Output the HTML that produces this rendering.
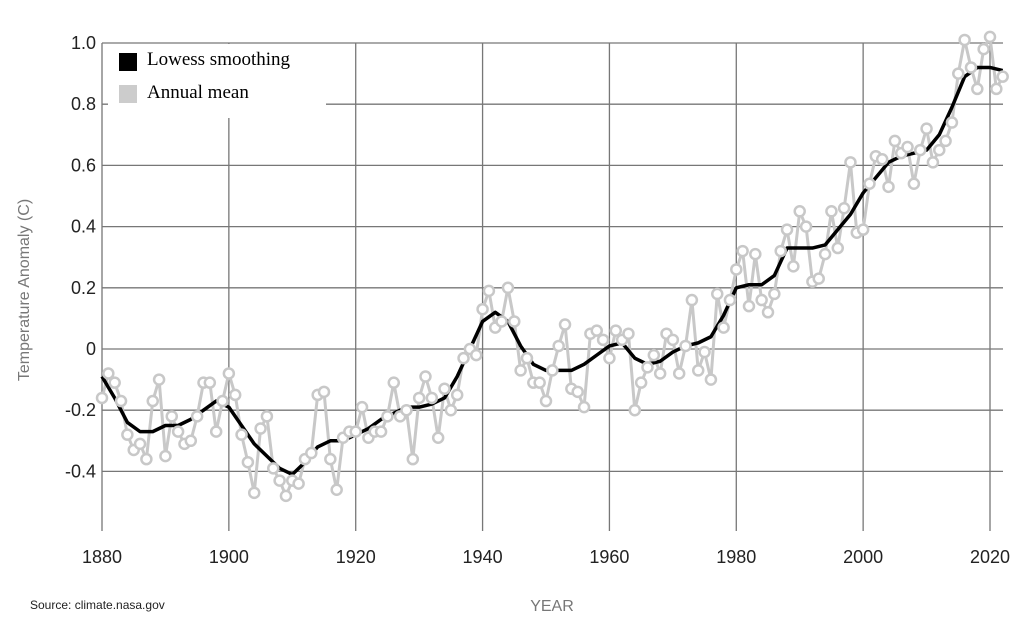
<!DOCTYPE html>
<html><head><meta charset="utf-8"><style>
html,body{margin:0;padding:0;background:#fff;}
svg{display:block;}
</style></head><body>
<svg id="c" width="1023" height="639" viewBox="0 0 1023 639" xmlns="http://www.w3.org/2000/svg" font-family="Liberation Sans, sans-serif"></svg>
<script>
const svg=document.getElementById('c');
const NS='http://www.w3.org/2000/svg';
function el(t,a,txt){const e=document.createElementNS(NS,t);for(const k in a)e.setAttribute(k,a[k]);if(txt!==undefined)e.textContent=txt;svg.appendChild(e);return e;}
const X=y=>102+(y-1880)*888/140;
const Y=v=>349-v*306;
for(let yr=1880;yr<=2020;yr+=20){el('line',{x1:X(yr),x2:X(yr),y1:43,y2:531,stroke:'#777','stroke-width':1.3});
 el('text',{x:X(yr),y:563,'text-anchor':'middle','font-size':18,fill:'#222'},String(yr));}
const yl={'1.0':1,'0.8':.8,'0.6':.6,'0.4':.4,'0.2':.2,'0':0,'-0.2':-.2,'-0.4':-.4};
for(const k in yl){el('line',{x1:102,x2:1003,y1:Y(yl[k]),y2:Y(yl[k]),stroke:'#777','stroke-width':1.3});
 el('text',{x:96,y:Y(yl[k])+6,'text-anchor':'end','font-size':18,fill:'#222'},k);}
const d=[-0.16,-0.08,-0.11,-0.17,-0.28,-0.33,-0.31,-0.36,-0.17,-0.10,-0.35,-0.22,-0.27,-0.31,-0.30,-0.22,-0.11,-0.11,-0.27,-0.17,-0.08,-0.15,-0.28,-0.37,-0.47,-0.26,-0.22,-0.39,-0.43,-0.48,-0.43,-0.44,-0.36,-0.34,-0.15,-0.14,-0.36,-0.46,-0.29,-0.27,-0.27,-0.19,-0.29,-0.27,-0.27,-0.22,-0.11,-0.22,-0.20,-0.36,-0.16,-0.09,-0.16,-0.29,-0.13,-0.20,-0.15,-0.03,0.00,-0.02,0.13,0.19,0.07,0.09,0.20,0.09,-0.07,-0.03,-0.11,-0.11,-0.17,-0.07,0.01,0.08,-0.13,-0.14,-0.19,0.05,0.06,0.03,-0.03,0.06,0.03,0.05,-0.20,-0.11,-0.06,-0.02,-0.08,0.05,0.03,-0.08,0.01,0.16,-0.07,-0.01,-0.10,0.18,0.07,0.16,0.26,0.32,0.14,0.31,0.16,0.12,0.18,0.32,0.39,0.27,0.45,0.40,0.22,0.23,0.31,0.45,0.33,0.46,0.61,0.38,0.39,0.54,0.63,0.62,0.53,0.68,0.64,0.66,0.54,0.65,0.72,0.61,0.65,0.68,0.74,0.90,1.01,0.92,0.85,0.98,1.02,0.85,0.89];
const lw=[-0.09,-0.16,-0.24,-0.27,-0.27,-0.25,-0.25,-0.23,-0.20,-0.17,-0.19,-0.25,-0.31,-0.35,-0.39,-0.41,-0.37,-0.32,-0.30,-0.30,-0.28,-0.26,-0.23,-0.21,-0.19,-0.19,-0.18,-0.16,-0.09,0.00,0.09,0.12,0.09,0.01,-0.05,-0.07,-0.07,-0.07,-0.05,-0.02,0.01,0.02,-0.03,-0.05,-0.04,-0.01,0.01,0.02,0.04,0.11,0.20,0.21,0.21,0.24,0.33,0.33,0.33,0.34,0.39,0.44,0.51,0.56,0.61,0.63,0.64,0.65,0.70,0.79,0.89,0.92,0.92,0.91];
el('polyline',{points:d.map((v,i)=>X(1880+i)+','+Y(v)).join(' '),fill:'none',stroke:'#c8c8c8','stroke-width':3,'stroke-linejoin':'round'});
el('polyline',{points:lw.map((v,i)=>X(1880+2*i)+','+Y(v)).join(' '),fill:'none',stroke:'#000','stroke-width':3.5,'stroke-linejoin':'round'});
d.forEach((v,i)=>el('circle',{cx:X(1880+i),cy:Y(v),r:5,fill:'#fff',stroke:'#c8c8c8','stroke-width':2.5}));
el('rect',{x:108,y:44,width:218,height:74,fill:'#fff'});
el('rect',{x:118,y:52,width:20,height:20,fill:'#000',stroke:'#fff','stroke-width':2});
el('rect',{x:118,y:84,width:20,height:20,fill:'#ccc',stroke:'#fff','stroke-width':2});
el('text',{x:147,y:65,style:'font-family:"Liberation Serif",serif;font-size:19px',fill:'#000'},'Lowess smoothing');
el('text',{x:147,y:98,style:'font-family:"Liberation Serif",serif;font-size:19px',fill:'#000'},'Annual mean');
el('text',{x:552,y:611,'text-anchor':'middle','font-size':16,fill:'#777'},'YEAR');
el('text',{x:29,y:290,'text-anchor':'middle','font-size':16,fill:'#777',transform:'rotate(-90 29 290)'},'Temperature Anomaly (C)');
el('text',{x:30,y:609,'font-size':12,fill:'#222'},'Source: climate.nasa.gov');
</script>
</body></html>
